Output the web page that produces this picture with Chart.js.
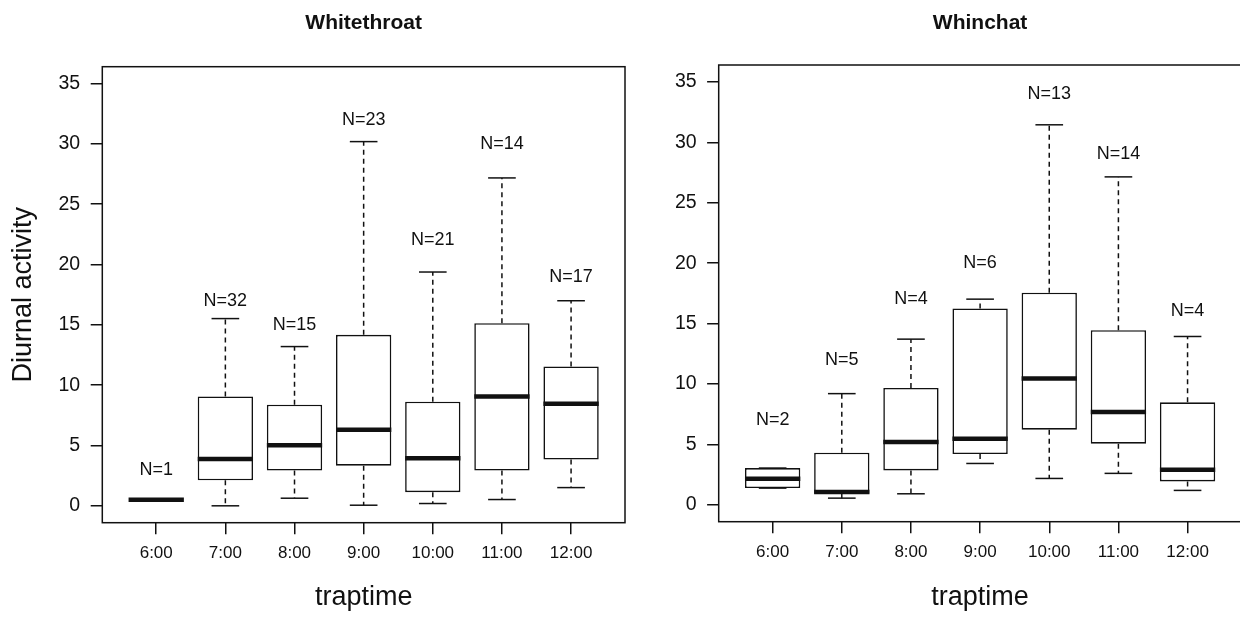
<!DOCTYPE html>
<html>
<head>
<meta charset="utf-8">
<title>Diurnal activity</title>
<script src="https://cdn.jsdelivr.net/npm/chart.js@4/dist/chart.umd.min.js"></script>
<style>
  body { margin: 0; width: 1240px; height: 617px; overflow: hidden; background: #fff; position: relative; }
  #whitethroat { position: absolute; left: 0; top: 0; }
  #whinchat { position: absolute; left: 630px; top: 0; }
</style>
</head>
<body>
<canvas id="whitethroat" width="640" height="617"></canvas>
<canvas id="whinchat" width="630" height="617"></canvas>
<script>
const times = ["6:00", "7:00", "8:00", "9:00", "10:00", "11:00", "12:00"];
const yTicks = [0, 5, 10, 15, 20, 25, 30, 35];

// Whitethroat
const wtLow = [0.5, 0, 0.63, 0.05, 0.19, 0.52, 1.51];
const wtQ1 = [0.5, 2.12, 2.92, 3.33, 1.13, 2.92, 3.83];
const wtMedian = [0.5, 3.89, 5.01, 6.31, 3.94, 9.07, 8.46];
const wtQ3 = [0.5, 9.07, 8.38, 14.17, 8.63, 15.14, 11.55];
const wtHigh = [0.5, 15.52, 13.2, 30.19, 19.38, 27.18, 17.0];
const wtN = [1, 32, 15, 23, 21, 14, 17];
const wtLabelAt = [3, 17, 15, 32, 22, 30, 19];

// Whinchat
const wcLow = [1.38, 0.55, 0.91, 3.42, 2.18, 2.6, 1.19];
const wcQ1 = [1.38, 0.91, 2.84, 4.2, 6.22, 5.06, 1.93];
const wcMedian = [2.15, 1.05, 5.19, 5.47, 10.45, 7.68, 2.9];
const wcQ3 = [3.04, 4.31, 9.67, 16.25, 17.55, 14.45, 8.48];
const wcHigh = [3.04, 9.2, 13.71, 17.02, 31.45, 27.14, 13.93];
const wcN = [2, 5, 4, 6, 13, 14, 4];
const wcLabelAt = [7, 12, 17, 20, 34, 29, 16];

const ink = "#111";
const fontName = "'Liberation Sans', Arial, sans-serif";

function line(ctx, x1, y1, x2, y2) {
  ctx.beginPath();
  ctx.moveTo(x1, y1);
  ctx.lineTo(x2, y2);
  ctx.stroke();
}

// whiskers, medians, N labels, frame and title on top of the boxes
function boxExtras(title, low, q1, med, q3, high, n, labelAt) {
  return {
    id: "boxExtras",
    afterDatasetsDraw(chart) {
      const ctx = chart.ctx;
      const xs = chart.scales.x;
      const ys = chart.scales.y;
      const area = chart.chartArea;
      const bars = chart.getDatasetMeta(0).data;
      ctx.save();
      ctx.strokeStyle = ink;
      ctx.fillStyle = ink;
      bars.forEach((bar, i) => {
        const cx = xs.getPixelForValue(i + 1);
        const half = bar.width / 2;
        const cap = bar.width / 4;
        const yHigh = ys.getPixelForValue(high[i]);
        const yLow = ys.getPixelForValue(low[i]);
        ctx.lineWidth = 1.5;
        ctx.setLineDash([5, 4]);
        if (high[i] > q3[i]) line(ctx, cx, ys.getPixelForValue(q3[i]), cx, yHigh);
        if (low[i] < q1[i]) line(ctx, cx, ys.getPixelForValue(q1[i]), cx, yLow);
        ctx.setLineDash([]);
        if (n[i] > 1) {
          line(ctx, cx - cap, yHigh, cx + cap, yHigh);
          line(ctx, cx - cap, yLow, cx + cap, yLow);
        }
        ctx.lineWidth = 4.5;
        const yMed = ys.getPixelForValue(med[i]);
        line(ctx, cx - half, yMed, cx + half, yMed);

        ctx.font = "18px " + fontName;
        ctx.textAlign = "center";
        ctx.textBaseline = "middle";
        ctx.fillText("N=" + n[i], cx, ys.getPixelForValue(labelAt[i]));
      });
      ctx.lineWidth = 1.5;
      ctx.strokeRect(area.left, area.top, area.right - area.left, area.bottom - area.top);

      ctx.font = "bold 21px " + fontName;
      ctx.textAlign = "center";
      ctx.textBaseline = "alphabetic";
      ctx.fillText(title, (area.left + area.right) / 2, 29);
      ctx.restore();
    }
  };
}

function makeBoxplot(id, title, low, q1, med, q3, high, n, labelAt, yTitle, yWidth, xHeight, pad) {
  new Chart(id, {
    type: "bar",
    data: {
      datasets: [{
        data: times.map((t, i) => ({ x: i + 1, y: [q1[i], q3[i]] })),
        backgroundColor: "#fff",
        borderColor: ink,
        borderWidth: 1.6,
        borderSkipped: false,
        barPercentage: 0.8,
        categoryPercentage: 1
      }]
    },
    options: {
      responsive: false,
      animation: false,
      layout: { padding: pad },
      plugins: {
        legend: { display: false },
        tooltip: { enabled: false },
        title: { display: false }
      },
      scales: {
        x: {
          type: "linear",
          min: 0.22,
          max: 7.78,
          offset: false,
          afterBuildTicks: s => { s.ticks = times.map((t, i) => ({ value: i + 1 })); },
          afterFit: s => { s.height = xHeight; },
          ticks: {
            callback: v => times[v - 1],
            font: { size: 17, family: fontName },
            color: ink,
            padding: 9,
            maxRotation: 0,
            autoSkip: false
          },
          grid: { offset: false, drawOnChartArea: false, tickLength: 11.6, color: ink, lineWidth: 1.5 },
          border: { display: false },
          title: {
            display: true,
            text: "traptime",
            font: { size: 27, family: fontName },
            color: ink,
            padding: { top: 0, bottom: 3 }
          }
        },
        y: {
          min: -1.4,
          max: 36.4,
          afterBuildTicks: s => { s.ticks = yTicks.map(v => ({ value: v })); },
          afterFit: s => { s.width = yWidth; },
          ticks: {
            font: { size: 19.5, family: fontName },
            color: ink,
            padding: 10.5
          },
          grid: { drawOnChartArea: false, tickLength: 11.6, color: ink, lineWidth: 1.5 },
          border: { display: false },
          title: {
            display: yTitle !== "",
            text: yTitle,
            font: { size: 27, family: fontName },
            color: ink,
            padding: { top: 7, bottom: 0 }
          }
        }
      }
    },
    plugins: [boxExtras(title, low, q1, med, q3, high, n, labelAt)]
  });
}

makeBoxplot("whitethroat", "Whitethroat", wtLow, wtQ1, wtMedian, wtQ3, wtHigh, wtN, wtLabelAt,
  "Diurnal activity", 102.3, 94.3, { left: 0, top: 66.7, right: 15, bottom: 0 });

makeBoxplot("whinchat", "Whinchat", wcLow, wcQ1, wcMedian, wcQ3, wcHigh, wcN, wcLabelAt,
  "", 88.7, 95.3, { left: 0, top: 65, right: 18.5, bottom: 0 });
</script>
</body>
</html>
